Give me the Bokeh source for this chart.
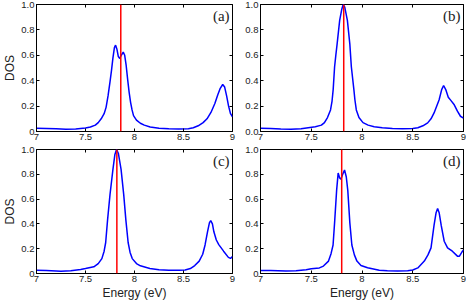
from bokeh.plotting import figure
from bokeh.layouts import column, row
from bokeh.models import Span, Label, FixedTicker, LinearAxis, Range1d
from bokeh.embed import file_html
from bokeh.resources import INLINE

# ---------------- data ----------------
energy_a = [7.0, 7.1, 7.2, 7.3, 7.4, 7.5, 7.55, 7.6, 7.63, 7.66, 7.69, 7.71, 7.73, 7.75,
            7.765, 7.78, 7.795, 7.807, 7.82, 7.835, 7.85, 7.865, 7.885, 7.9, 7.915, 7.93,
            7.945, 7.96, 7.975, 7.99, 8.02, 8.06, 8.1, 8.16, 8.25, 8.35, 8.45, 8.55, 8.6,
            8.65, 8.7, 8.74, 8.78, 8.82, 8.85, 8.875, 8.9, 8.92, 8.94, 8.96, 8.98, 9.0]
dos_a = [0.025, 0.024, 0.022, 0.018, 0.02, 0.028, 0.035, 0.05, 0.07, 0.10, 0.14, 0.19, 0.28, 0.39,
         0.48, 0.58, 0.66, 0.68, 0.65, 0.59, 0.575, 0.60, 0.625, 0.60, 0.52, 0.41,
         0.31, 0.23, 0.17, 0.125, 0.09, 0.065, 0.05, 0.035, 0.026, 0.021, 0.02, 0.022, 0.03,
         0.045, 0.07, 0.10, 0.15, 0.22, 0.29, 0.34, 0.37, 0.35, 0.28, 0.20, 0.14, 0.115]

energy_b = [7.0, 7.1, 7.2, 7.3, 7.4, 7.47, 7.54, 7.6, 7.63, 7.66, 7.69, 7.705, 7.716, 7.73,
            7.742, 7.755, 7.78, 7.8, 7.815, 7.83, 7.856, 7.88, 7.895, 7.92, 7.93, 7.944,
            7.97, 8.01, 8.06, 8.12, 8.2, 8.3, 8.4, 8.5, 8.55, 8.6, 8.647, 8.68, 8.71, 8.76,
            8.785, 8.804, 8.825, 8.85, 8.875, 8.909, 8.94, 8.97, 9.0]
dos_b = [0.025, 0.024, 0.02, 0.018, 0.022, 0.03, 0.037, 0.05, 0.07, 0.11, 0.17, 0.24, 0.33, 0.51,
         0.60, 0.69, 0.875, 0.96, 1.0, 0.98, 0.875, 0.69, 0.51, 0.33, 0.25, 0.17,
         0.11, 0.07, 0.05, 0.037, 0.03, 0.024, 0.022, 0.024, 0.03, 0.045, 0.068, 0.10, 0.146, 0.25,
         0.33, 0.362, 0.33, 0.27, 0.245, 0.21, 0.16, 0.12, 0.105]

energy_c = [7.0, 7.1, 7.25, 7.35, 7.45, 7.5, 7.585, 7.63, 7.667, 7.69, 7.706, 7.725, 7.75,
            7.78, 7.8, 7.817, 7.835, 7.863, 7.89, 7.912, 7.935, 7.955, 7.977, 8.02, 8.06,
            8.157, 8.25, 8.35, 8.45, 8.517, 8.57, 8.615, 8.66, 8.696, 8.72, 8.745, 8.765,
            8.778, 8.795, 8.81, 8.835, 8.86, 8.909, 8.958, 8.98, 9.0]
dos_c = [0.026, 0.024, 0.018, 0.022, 0.033, 0.04, 0.054, 0.08, 0.12, 0.18, 0.25, 0.43, 0.636,
         0.84, 0.96, 1.0, 0.97, 0.84, 0.636, 0.43, 0.25, 0.17, 0.12, 0.08, 0.062,
         0.041, 0.03, 0.027, 0.027, 0.028, 0.04, 0.064, 0.10, 0.155, 0.23, 0.336, 0.41,
         0.426, 0.40, 0.336, 0.27, 0.233, 0.18, 0.13, 0.122, 0.137]

energy_d = [7.0, 7.1, 7.25, 7.35, 7.45, 7.5, 7.58, 7.62, 7.67, 7.695, 7.715, 7.73, 7.75,
            7.765, 7.78, 7.792, 7.81, 7.828, 7.845, 7.86, 7.88, 7.90, 7.925, 7.95, 7.99,
            8.055, 8.17, 8.25, 8.35, 8.45, 8.5, 8.55, 8.614, 8.65, 8.68, 8.71, 8.73, 8.745,
            8.76, 8.78, 8.81, 8.843, 8.89, 8.94, 8.96, 8.99, 9.0]
dos_d = [0.025, 0.024, 0.02, 0.022, 0.03, 0.038, 0.045, 0.06, 0.10, 0.16, 0.23, 0.41, 0.67,
         0.81, 0.77, 0.76, 0.80, 0.835, 0.78, 0.67, 0.41, 0.23, 0.15, 0.10, 0.065,
         0.047, 0.026, 0.022, 0.02, 0.022, 0.028, 0.045, 0.10, 0.15, 0.207, 0.39, 0.49, 0.525,
         0.49, 0.39, 0.26, 0.207, 0.18, 0.14, 0.14, 0.18, 0.19]

marker_energy = [7.86, 7.82, 7.82, 7.80]
panel_labels = ["(a)", "(b)", "(c)", "(d)"]

x_ticks = [7, 7.5, 8, 8.5, 9]
x_tick_labels = ["7", "7.5", "8", "8.5", "9"]
y_ticks = [0, 0.2, 0.4, 0.6, 0.8, 1.0]
y_tick_labels_zero = ["0", "0.2", "0.4", "0.6", "0.8", "1.0"]
y_tick_labels_b = ["0.0", "0.2", "0.4", "0.6", "0.8", "1.0"]

x_label = "Energy (eV)"
y_label = "DOS"

SANS = "Liberation Sans"
SERIF = "Liberation Serif"


def make_panel(energy, dos, marker, label, ylabels, left, bottom):
    w = 236 if left else 230
    h = 145 if not bottom else 157
    p = figure(width=w, height=h, output_backend="svg", toolbar_location=None,
               x_range=Range1d(7, 9), y_range=Range1d(0, 1.0),
               min_border_left=28 if left else 24,
               min_border_right=4 if left else 3,
               min_border_top=4,
               min_border_bottom=26 if bottom else 14)
    p.grid.visible = False
    p.outline_line_color = "black"
    p.outline_line_width = 1
    p.background_fill_color = "white"
    p.border_fill_color = "white"

    p.line(energy, dos, line_color="#0000ff", line_width=1.5)
    p.add_layout(Span(location=marker, dimension="height", line_color="#ff0000", line_width=1.5))

    xa = p.xaxis[0]
    xa.ticker = FixedTicker(ticks=x_ticks, minor_ticks=[])
    xa.major_label_overrides = {t: s for t, s in zip(x_ticks, x_tick_labels)}
    ya = p.yaxis[0]
    ya.ticker = FixedTicker(ticks=y_ticks, minor_ticks=[])
    ya.major_label_overrides = {t: s for t, s in zip(y_ticks, ylabels)}
    for ax in (xa, ya):
        ax.major_tick_in = 3
        ax.major_tick_out = 0
        ax.minor_tick_line_color = None
        ax.axis_line_color = "black"
        ax.major_label_text_font = SANS
        ax.major_label_text_font_size = "9.5px"
        ax.major_label_text_color = "#222222"
        ax.major_label_standoff = 2
        ax.axis_label_text_font = SANS
        ax.axis_label_text_font_size = "12px"
        ax.axis_label_text_font_style = "normal"
        ax.axis_label_text_color = "#222222"
        ax.axis_label_standoff = 1
    if left:
        ya.axis_label = y_label
    if bottom:
        xa.axis_label = x_label

    # ticks on the top and right edges (no labels)
    top = LinearAxis(ticker=FixedTicker(ticks=x_ticks, minor_ticks=[]))
    right = LinearAxis(ticker=FixedTicker(ticks=y_ticks, minor_ticks=[]))
    for ax in (top, right):
        ax.major_tick_in = 3
        ax.major_tick_out = 0
        ax.minor_tick_line_color = None
        ax.axis_line_color = None
        ax.major_label_text_font_size = "0px"
        ax.major_label_text_color = None
        ax.major_label_standoff = 0
    p.add_layout(top, "above")
    p.add_layout(right, "right")

    p.add_layout(Label(x=8.97, y=0.975, text=label, text_align="right", text_baseline="top",
                       text_font=SERIF, text_font_size="15px", text_color="#222222"))
    return p


pa = make_panel(energy_a, dos_a, marker_energy[0], panel_labels[0], y_tick_labels_zero, True, False)
pb = make_panel(energy_b, dos_b, marker_energy[1], panel_labels[1], y_tick_labels_b, False, False)
pc = make_panel(energy_c, dos_c, marker_energy[2], panel_labels[2], y_tick_labels_zero, True, True)
pd = make_panel(energy_d, dos_d, marker_energy[3], panel_labels[3], y_tick_labels_zero, False, True)

layout = column(row(pa, pb, spacing=0), row(pc, pd, spacing=0), spacing=0)

open("out.html", "w").write(file_html(layout, INLINE))
